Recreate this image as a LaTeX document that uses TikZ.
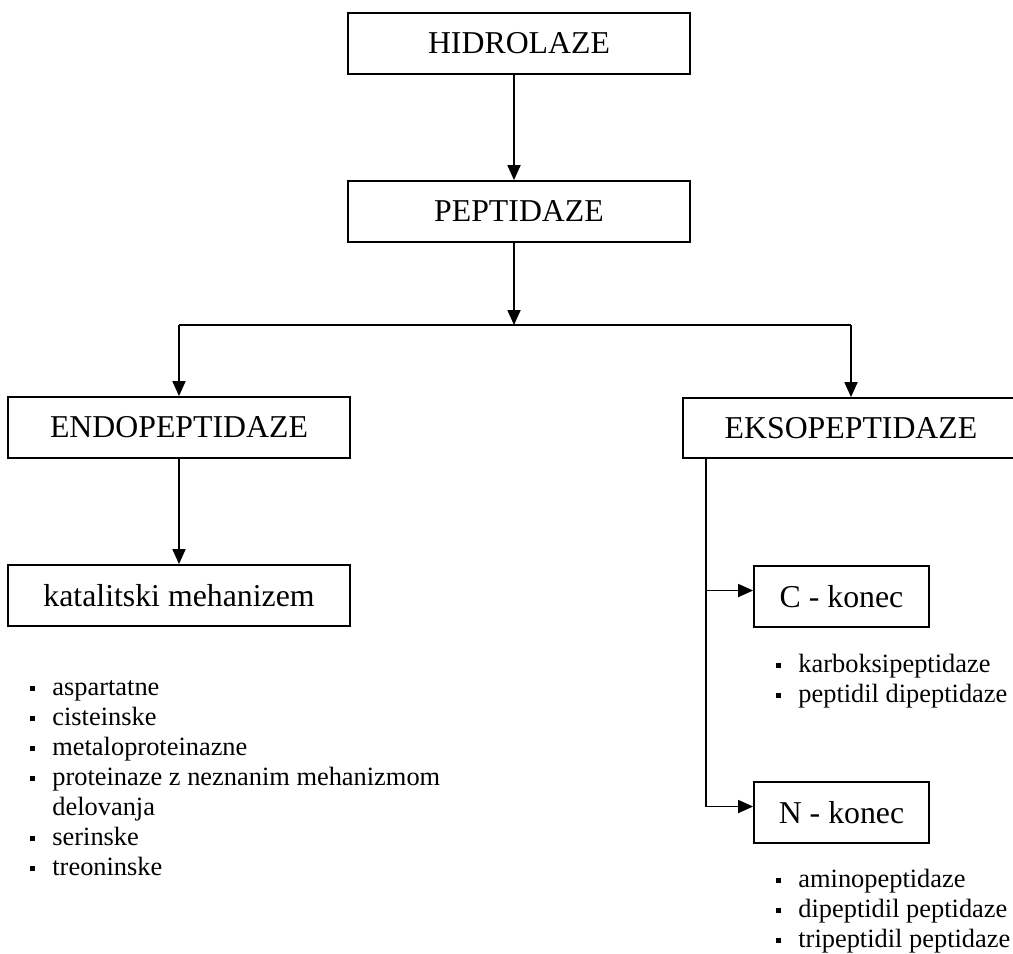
\documentclass[tikz,border=0pt]{standalone}
\usepackage{fontspec}
\setmainfont{Liberation Serif}
\usetikzlibrary{arrows.meta}
\newcommand\bul{\makebox[11pt][l]{\rule[2pt]{2.5pt}{2.5pt}}}
\begin{document}
\begin{tikzpicture}[x=0.5pt,y=-0.5pt,
  box/.style={draw,line width=0.9pt,rectangle,inner sep=0pt,minimum height=30.5pt,font=\fontsize{15.9}{18}\selectfont},
  arr/.style={line width=0.9pt,-{Triangle[length=7.5pt,width=6.5pt]}},
  ln/.style={line width=0.9pt},
  lst/.style={inner sep=0pt,anchor=base west,font=\fontsize{13.2}{15}\selectfont}]
\useasboundingbox (0,0) rectangle (1013,954);
% boxes
\node[box,minimum width=171pt] (hid) at (519,43.5) {HIDROLAZE};
\node[box,minimum width=171pt] (pep) at (519,211.5) {PEPTIDAZE};
\node[box,minimum width=171pt] (endo) at (179,427.5) {ENDOPEPTIDAZE};
\node[box,minimum width=171pt] (kat) at (179,595.5) {katalitski mehanizem};
\node[box,minimum width=168pt,minimum height=30pt] (ekso) at (851,428) {EKSOPEPTIDAZE};
\node[box,minimum width=87.5pt] (cc) at (841.5,596.5) {C - konec};
\node[box,minimum width=87.5pt] (nn) at (841.5,812.5) {N - konec};
% connectors
\coordinate (j) at (514,325);
\coordinate (jl) at (179,325);
\coordinate (jr) at (851,325);
\draw[arr] (hid.south -| j) -- (pep.north -| j);
\draw[arr] (pep.south -| j) -- (j);
\draw[ln] (jl) -- (jr);
\draw[arr] (jl) -- (endo.north);
\draw[arr] (jr) -- (ekso.north);
\draw[arr] (endo) -- (kat);
\coordinate (ev) at ([xshift=12pt]ekso.south west);
\draw[arr] (ev) |- ([yshift=3pt]nn.west);
\draw[arr] ([yshift=3pt]ev |- cc.west) -- ([yshift=3pt]cc.west);
% lists
\node[lst] (la) at (30,695) {\begin{tabular}[t]{@{}l@{}l@{}}
\bul & aspartatne\\
\bul & cisteinske\\
\bul & metaloproteinazne\\
\bul & proteinaze z neznanim mehanizmom\\
 & delovanja\\
\bul & serinske\\
\bul & treoninske
\end{tabular}};
\node[lst] (lc) at (776,672) {\begin{tabular}[t]{@{}l@{}l@{}}
\bul & karboksipeptidaze\\
\bul & peptidil dipeptidaze
\end{tabular}};
\node[lst] (ln) at (776,887) {\begin{tabular}[t]{@{}l@{}l@{}}
\bul & aminopeptidaze\\
\bul & dipeptidil peptidaze\\
\bul & tripeptidil peptidaze
\end{tabular}};
\end{tikzpicture}
\end{document}
